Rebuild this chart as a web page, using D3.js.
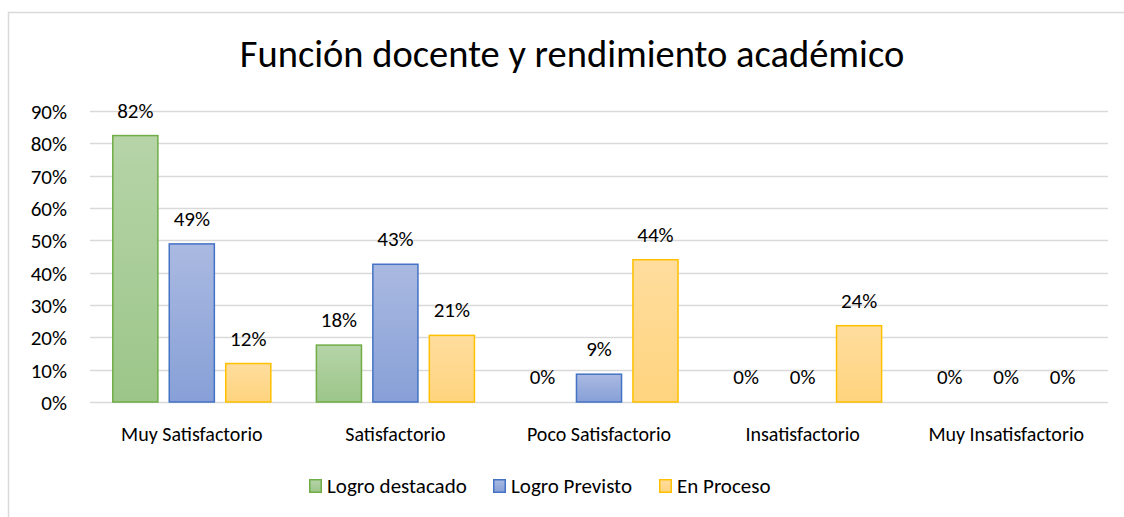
<!DOCTYPE html>
<html><head><meta charset="utf-8">
<script src="https://cdn.jsdelivr.net/npm/d3@7"></script>
<style>body{margin:0;background:#fff}svg{display:block}text{font-family:Carlito,Lato,sans-serif;fill:#000}</style>
</head><body><svg id="c" width="1124" height="517"></svg>
<script>
const categories = ["Muy Satisfactorio","Satisfactorio","Poco Satisfactorio","Insatisfactorio","Muy Insatisfactorio"];
const seriesNames = ["Logro destacado","Logro Previsto","En Proceso"];
const logroDestacado = [0.824,0.176,0,0,0];
const logroPrevisto = [0.489,0.426,0.086,0,0];
const enProceso = [0.119,0.206,0.44,0.236,0];
const yTicks = [0,0.1,0.2,0.3,0.4,0.5,0.6,0.7,0.8,0.9];

const series = [logroDestacado, logroPrevisto, enProceso];
const fills = [["#b6d4a8","#9cc689"],["#aab9e1","#87a0d7"],["#ffdd9e","#ffd47e"]];
const strokes = ["#70ad47","#4472c4","#ffc000"];
const pct = d3.format(".0%");
const FS = 21;

const svg = d3.select("#c");
const defs = svg.append("defs");
fills.forEach((f,i)=>{
  const g = defs.append("linearGradient").attr("id","g"+i).attr("x1",0).attr("y1",0).attr("x2",0).attr("y2",1);
  g.append("stop").attr("offset","0%").attr("stop-color",f[0]);
  g.append("stop").attr("offset","100%").attr("stop-color",f[1]);
});

// frame
svg.append("path").attr("d","M8.5,517 V12.5 H1124").attr("fill","none").attr("stroke","#d9d9d9").attr("stroke-width",1.5);

const pLeft=90,pRight=1108,pTop=111,pBottom=402;
const y = d3.scaleLinear().domain([0,0.9]).range([pBottom,pTop]);
const x0 = d3.scaleBand().domain(categories).range([pLeft,pRight]).padding(0);
const x1 = d3.scaleBand().domain(d3.range(3)).range([0,x0.bandwidth()]).paddingInner(0.175).paddingOuter(0.39);

// grid
svg.append("g").selectAll("line").data(yTicks).join("line")
  .attr("x1",pLeft).attr("x2",pRight).attr("y1",d=>Math.round(y(d))+0.5).attr("y2",d=>Math.round(y(d))+0.5)
  .attr("stroke","#d9d9d9").attr("stroke-width",1.3);

// y axis labels
const yAxis = d3.axisLeft(y).tickValues(yTicks).tickFormat(pct).tickSize(0).tickPadding(0);
const ya = svg.append("g").attr("transform",`translate(${67},0)`).call(yAxis);
ya.select(".domain").remove();
ya.selectAll("text").attr("font-size",FS).attr("font-family","Carlito,Lato,sans-serif").attr("fill","#000").attr("dy","0.36em");

// x axis labels
const xAxis = d3.axisBottom(x0).tickSize(0).tickPadding(0);
const xa = svg.append("g").attr("transform",`translate(0,${441})`).call(xAxis);
xa.select(".domain").remove();
xa.selectAll("text").attr("font-size",20).attr("font-family","Carlito,Lato,sans-serif").attr("fill","#000").attr("dy",0);

// bars
categories.forEach((c,ci)=>{
  series.forEach((s,si)=>{
    const v = s[ci];
    const bx = x0(c)+x1(si), bw = x1.bandwidth();
    if (v>0) {
      svg.append("rect").attr("x",bx+0.75).attr("y",y(v)).attr("width",bw-1.5).attr("height",pBottom-y(v))
        .attr("fill",`url(#g${si})`).attr("stroke",strokes[si]).attr("stroke-width",1.5);
    }
    svg.append("text").attr("x",bx+bw/2).attr("y",y(v)-18).attr("text-anchor","middle").attr("font-size",FS)
      .text(pct(v));
  });
});

// title
svg.append("text").attr("x",572).attr("y",67).attr("text-anchor","middle").attr("font-size",38.5).text("Función docente y rendimiento académico");

// legend
const legX = [309,493,659];
seriesNames.forEach((n,i)=>{
  svg.append("rect").attr("x",legX[i]+0.75).attr("y",479.75).attr("width",11.5).attr("height",12.5)
    .attr("fill",`url(#g${i})`).attr("stroke",strokes[i]).attr("stroke-width",1.5);
  svg.append("text").attr("x",legX[i]+18).attr("y",493).attr("font-size",FS).text(n);
});
</script></body></html>
